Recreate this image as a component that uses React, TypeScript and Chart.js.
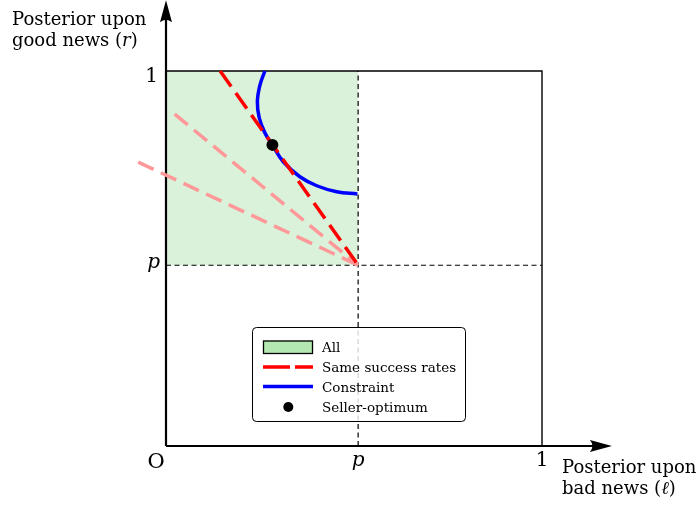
import { useEffect, useRef } from "react";
import { Chart, registerables } from "chart.js";

Chart.register(...registerables);

// ---- data ----
const pL = 0.511; // p on the ℓ (bad news) axis
const pR = 0.482; // p on the r (good news) axis
const xTickValues = [pL, 1];
const xTickLabels = ["p", "1"];
const yTickValues = [pR, 1];
const yTickLabels = ["p", "1"];
const originLabel = "O";

const sameRateL = [0.144, pL];
const sameRateR = [1.0, pR];
const fan1L = [0.023, pL];
const fan1R = [0.885, pR];
const fan2L = [-0.074, pL];
const fan2R = [0.757, pR];

const constraintL = [0.263, 0.25, 0.243, 0.248, 0.263, 0.283, 0.312, 0.356, 0.401, 0.454, 0.509];
const constraintR = [1.0, 0.963, 0.918, 0.875, 0.835, 0.803, 0.758, 0.718, 0.694, 0.678, 0.672];

const optimumL = [0.283];
const optimumR = [0.803];

const xAxisEnd = 1.186;
const yAxisEnd = 1.189;

const legendLabels = ["All", "Same success rates", "Constraint", "Seller-optimum"];
const yTitle = ["Posterior upon", "good news (", "r", ")"];
const xTitle = ["Posterior upon", "bad news (", "ℓ", ")"];

const pts = (xs: number[], ys: number[]) => xs.map((x, i) => ({ x, y: ys[i] }));

const FONT = '"DejaVu Serif"';
const GREEN_FILL = "rgba(179,230,179,0.5)";
const GREEN = "rgb(179,232,179)";
const RED = "#ff0000";
const PINK = "#ff9999";
const BLUE = "#0000ff";

function arrow(ctx: CanvasRenderingContext2D, tx: number, ty: number, dir: "up" | "right") {
  ctx.save();
  ctx.translate(tx, ty);
  if (dir === "up") ctx.rotate(-Math.PI / 2);
  ctx.beginPath();
  ctx.moveTo(0, 0);
  ctx.lineTo(-22, -6);
  ctx.quadraticCurveTo(-17, 0, -22, 6);
  ctx.closePath();
  ctx.fillStyle = "#000";
  ctx.fill();
  ctx.restore();
}

// parts: [normal, italic, normal]
function mixedText(ctx: CanvasRenderingContext2D, parts: string[], x: number, y: number, size: number) {
  let cx = x;
  parts.forEach((t, i) => {
    ctx.font = (i === 1 ? "italic " : "") + size + "px " + FONT;
    ctx.fillText(t, cx, y);
    cx += ctx.measureText(t).width;
  });
}

const overlay = {
  id: "overlay",
  afterDatasetsDraw(chart: any) {
    const ctx: CanvasRenderingContext2D = chart.ctx;
    const X = (v: number) => chart.scales.x.getPixelForValue(v);
    const Y = (v: number) => chart.scales.y.getPixelForValue(v);
    ctx.save();
    arrow(ctx, X(xAxisEnd), Y(0), "right");
    arrow(ctx, X(0), Y(yAxisEnd), "up");

    ctx.fillStyle = "#000";
    ctx.textBaseline = "alphabetic";
    // y tick labels
    ctx.textAlign = "right";
    yTickValues.forEach((v, i) => {
      const lab = yTickLabels[i];
      if (lab === "p") {
        ctx.font = "italic 20px " + FONT;
        ctx.fillText(lab, X(0) - 6, Y(v) + 3);
      } else {
        ctx.font = "20px " + FONT;
        ctx.fillText(lab, X(0) - 8, Y(v) + 11);
      }
    });
    // x tick labels
    ctx.textAlign = "center";
    xTickValues.forEach((v, i) => {
      const lab = xTickLabels[i];
      ctx.font = (lab === "p" ? "italic " : "") + "20px " + FONT;
      ctx.fillText(lab, X(v), Y(0) + 20);
    });
    ctx.font = "21px " + FONT;
    ctx.fillText(originLabel, X(0) - 10, Y(0) + 22);

    // axis titles
    ctx.textAlign = "left";
    ctx.font = "18px " + FONT;
    ctx.fillText(yTitle[0], 12, 25);
    mixedText(ctx, yTitle.slice(1), 12, 46, 18);
    ctx.font = "18px " + FONT;
    ctx.fillText(xTitle[0], 562, 473);
    mixedText(ctx, xTitle.slice(1), 562, 494, 18);
    ctx.restore();
  },
  afterDraw(chart: any) {
    const ctx: CanvasRenderingContext2D = chart.ctx;
    ctx.save();
    const bx = 252.5, by = 327.5, bw = 213, bh = 94;
    ctx.beginPath();
    ctx.roundRect(bx, by, bw, bh, 4);
    ctx.fillStyle = "rgba(255,255,255,0.82)";
    ctx.fill();
    ctx.strokeStyle = "#000";
    ctx.lineWidth = 1;
    ctx.stroke();

    const rows = [347, 367, 386.5, 407];
    const sx0 = 263, sx1 = 313;
    // All swatch
    ctx.fillStyle = GREEN;
    ctx.fillRect(sx0, rows[0] - 6.5, sx1 - sx0, 13);
    ctx.lineWidth = 1.3;
    ctx.strokeRect(sx0 + 0.5, rows[0] - 6, sx1 - sx0 - 1, 12.5);
    // Same success rates
    ctx.lineWidth = 3.5;
    ctx.strokeStyle = RED;
    ctx.setLineDash([27, 5]);
    ctx.beginPath();
    ctx.moveTo(sx0, rows[1]);
    ctx.lineTo(sx1, rows[1]);
    ctx.stroke();
    ctx.setLineDash([]);
    // Constraint
    ctx.strokeStyle = BLUE;
    ctx.beginPath();
    ctx.moveTo(sx0, rows[2]);
    ctx.lineTo(sx1, rows[2]);
    ctx.stroke();
    // Seller optimum
    ctx.fillStyle = "#000";
    ctx.beginPath();
    ctx.arc(288.3, rows[3], 5, 0, Math.PI * 2);
    ctx.fill();

    ctx.font = "13.5px " + FONT;
    ctx.textAlign = "left";
    ctx.textBaseline = "alphabetic";
    legendLabels.forEach((t, i) => ctx.fillText(t, 322, rows[i] + 5));
    ctx.restore();
  },
};

export default function App() {
  const ref = useRef<HTMLCanvasElement>(null);
  useEffect(() => {
    document.body.style.margin = "0";
    const line = (data: any[], extra: any) => ({
      data,
      showLine: true,
      pointRadius: 0,
      borderCapStyle: "butt",
      tension: 0,
      ...extra,
    });
    const chart = new Chart(ref.current!, {
      type: "scatter",
      data: {
        datasets: [
          line(pts([0, pL], [1, 1]), {
            label: "All",
            fill: { value: pR },
            backgroundColor: GREEN_FILL,
            borderWidth: 0,
            borderColor: "rgba(0,0,0,0)",
            order: 20,
          }),
          line(pts([pL, pL], [0, 1]), { borderColor: "#000", borderWidth: 1.2, borderDash: [5, 3.5], order: 19 }),
          line(pts([0, 1], [pR, pR]), { borderColor: "#000", borderWidth: 1.2, borderDash: [5, 3.5], order: 19 }),
          line(pts([0, 1, 1], [1, 1, 0]), { borderColor: "#000", borderWidth: 1.4, order: 18 }),
          line(pts([0, xAxisEnd - 0.03], [0, 0]), { borderColor: "#000", borderWidth: 2.2, order: 17 }),
          line(pts([0, 0], [0, yAxisEnd - 0.03]), { borderColor: "#000", borderWidth: 2.2, order: 17 }),
          line(pts(fan2L, fan2R), { borderColor: PINK, borderWidth: 3.5, borderDash: [17, 8], order: 6 }),
          line(pts(fan1L, fan1R), { borderColor: PINK, borderWidth: 3.5, borderDash: [17, 8], order: 5 }),
          line(pts(constraintL, constraintR), {
            label: "Constraint",
            borderColor: BLUE,
            borderWidth: 3.5,
            tension: 0.4,
            order: 4,
          }),
          line(pts(sameRateL, sameRateR), {
            label: "Same success rates",
            borderColor: RED,
            borderWidth: 3.5,
            borderDash: [19, 8],
            order: 3,
          }),
          {
            label: "Seller-optimum",
            data: pts(optimumL, optimumR),
            pointRadius: 6,
            pointBackgroundColor: "#000",
            pointBorderWidth: 0,
            order: 1,
          },
        ],
      },
      options: {
        responsive: false,
        animation: false,
        layout: { padding: 0, autoPadding: false },
        plugins: { legend: { display: false }, tooltip: { enabled: false } },
        scales: {
          x: { type: "linear", display: false, min: -166 / 376, max: 533 / 376 },
          y: { type: "linear", display: false, min: -64 / 375, max: 446 / 375 },
        },
      },
      plugins: [overlay],
    } as any);
    return () => chart.destroy();
  }, []);
  return (
    <div style={{ width: 699, height: 510 }}>
      <canvas ref={ref} width={699} height={510} style={{ display: "block" }} />
    </div>
  );
}
